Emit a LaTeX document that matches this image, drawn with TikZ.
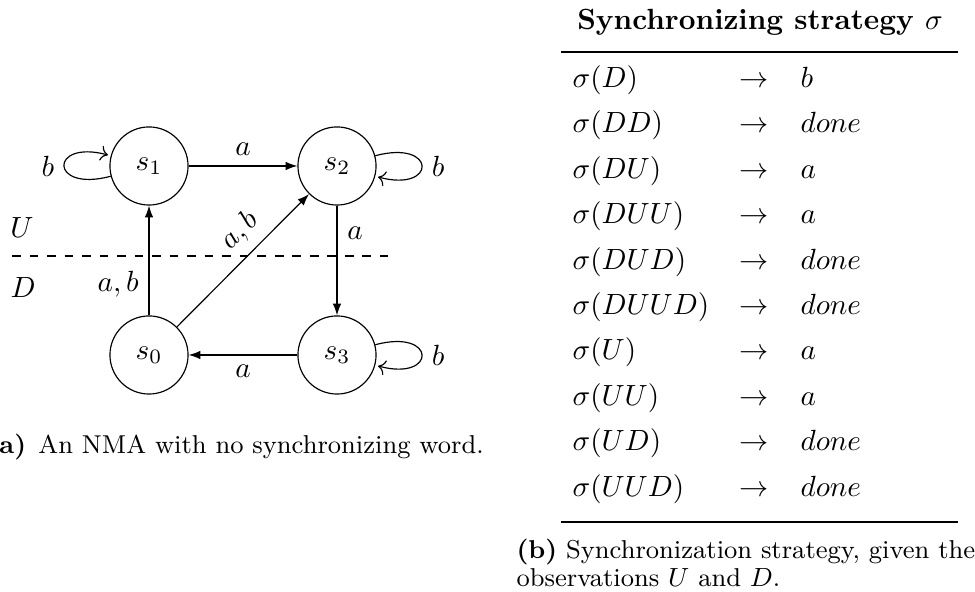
\documentclass[tikz,border=0pt]{standalone}
\usepackage{amsmath}
\usepackage{amssymb}
\usepackage{tikz}
\usetikzlibrary{arrows.meta,positioning}

\newcommand{\capfont}{\fontsize{8.85pt}{10.8pt}\selectfont}

\begin{document}
\begin{tikzpicture}[
  x=0.3425pt,
  y=0.3425pt,
  state/.style={circle, draw, minimum size=9.4mm, inner sep=0pt},
  trans/.style={-{Latex[length=4pt,width=2.9pt]}},
  cell/.style={inner sep=0pt, anchor=base west},
  tabrule/.style={line width=0.8pt}
]
  \useasboundingbox (0,0) rectangle (975,592);

  % the automaton
  \node[state] (s1) at (149,426) {$s_1$};
  \node[state] (s2) at (337,426) {$s_2$};
  \node[state] (s0) at (149,237) {$s_0$};
  \node[state] (s3) at (337,237) {$s_3$};

  \coordinate (obsL) at (12,336);
  \coordinate (obsR) at (388,336);
  \draw[dashed] (obsL) -- (obsR);
  \node (up) at (22,364) {$U$};
  \node (down) at (23,304) {$D$};

  \draw[trans] (s1) -- node[above] {$a$} (s2);
  \draw[trans] (s2) -- node[right, pos=0.25] {$a$} (s3);
  \draw[trans] (s3) -- node[below] {$a$} (s0);
  \draw[trans] (s0) -- node[left, pos=0.28] {$a,b$} (s1);
  \draw[trans] (s0) -- node[above, sloped, pos=0.6] {$a,b$} (s2);
  \path[trans] (s1) edge[loop left] node[left] {$b$} ();
  \path[trans] (s2) edge[loop right] node[right] {$b$} ();
  \path[trans] (s3) edge[loop right] node[right] {$b$} ();

  \node[anchor=base west, inner sep=0pt, font=\capfont] (capa) at (-13,138)
    {\textbf{(a)}\hspace{4.2pt}An NMA with no synchronizing word.};

  % strategy table
  \node[anchor=base, inner sep=0pt] (head) at (760,562)
    {\textbf{Synchronizing strategy $\sigma$}};
  \coordinate (topL) at (561,540.3);
  \coordinate (topR) at (958,540.3);
  \coordinate (botL) at (561,70);
  \coordinate (botR) at (958,70);
  \draw[tabrule] (topL) -- (topR);
  \draw[tabrule] (botL) -- (botR);

  \foreach \w/\r [count=\i] in {D/b, DD/done, DU/a, DUU/a, DUD/done,
      DUUD/done, U/a, UU/a, UD/done, UUD/done}
  {
    \pgfmathsetmacro{\rowy}{504.5-45.4*(\i-1)}
    \node[cell] (obs\i) at (572,\rowy) {$\sigma(\w)$};
    \node[cell] (map\i) at (739,\rowy) {$\rightarrow$};
    \node[cell] (act\i) at (800,\rowy) {$\r$};
  }

  \node[anchor=north west, inner sep=0pt, font=\capfont, align=left] (capb)
    at (516,53)
    {\textbf{(b)} Synchronization strategy, given the\\[-1.4pt]
     observations $U$ and $D$.};
\end{tikzpicture}
\end{document}
